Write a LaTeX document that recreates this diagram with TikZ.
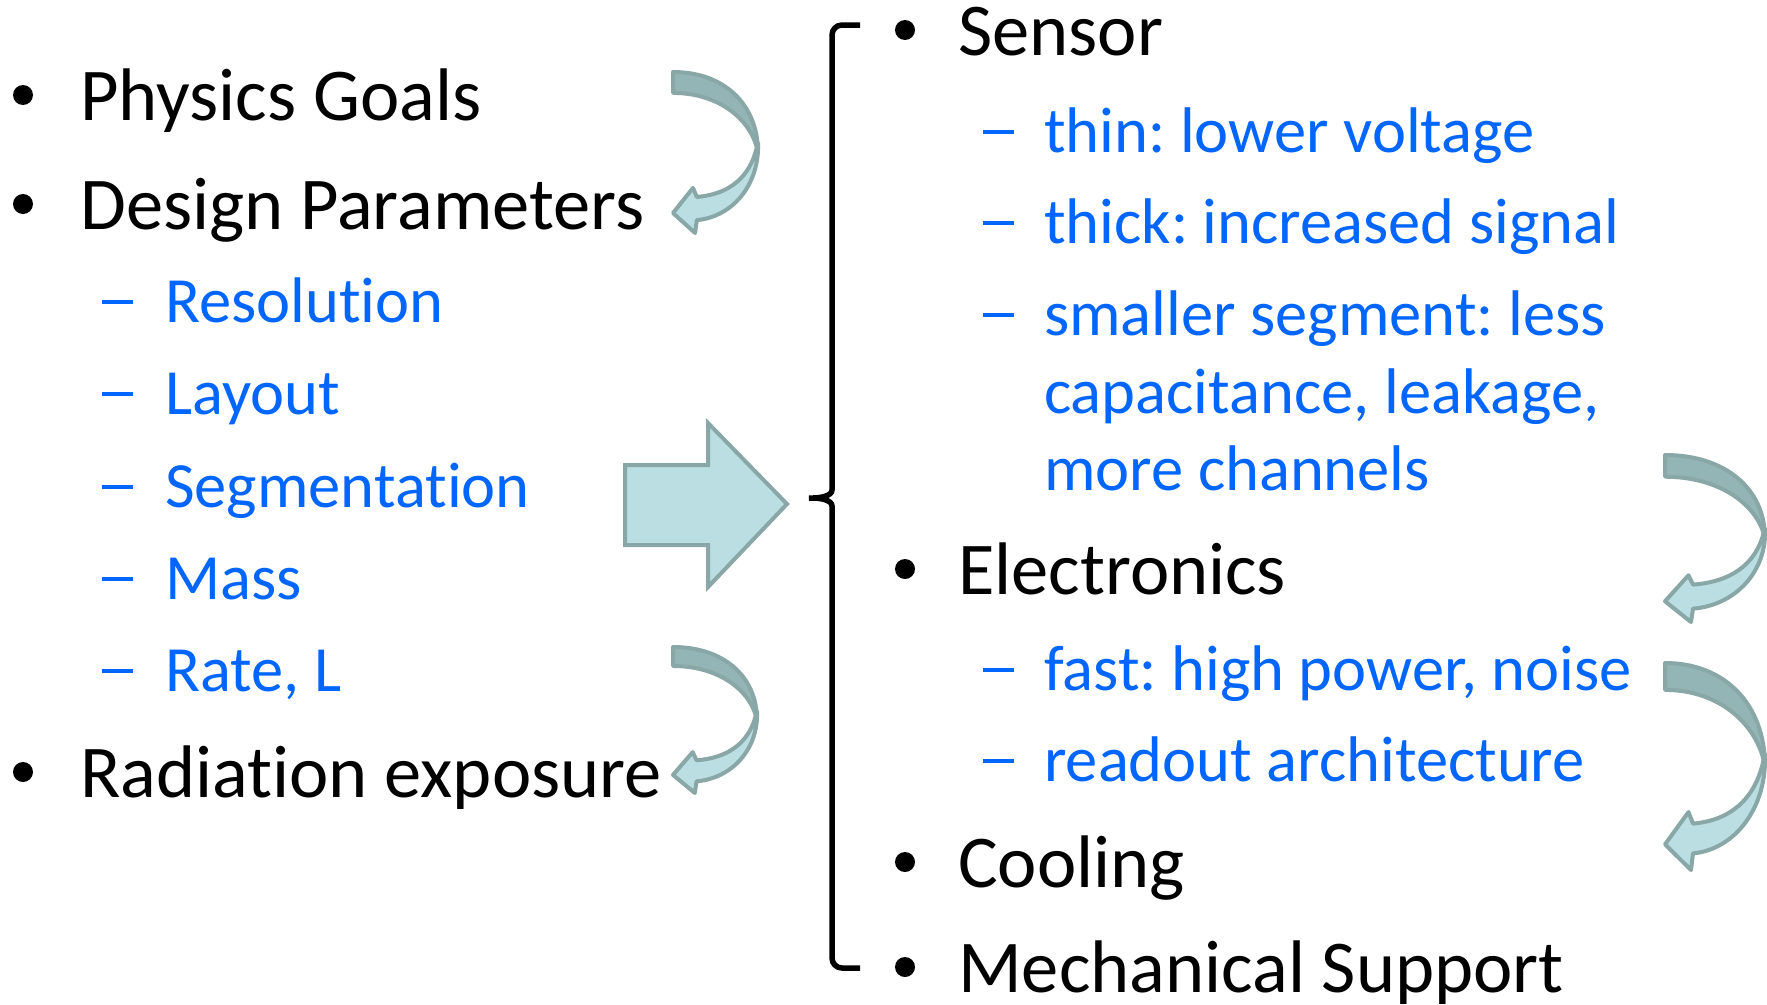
\documentclass[tikz,border=0pt]{standalone}
\usepackage{fontspec}
\setmainfont[RawFeature={-liga}]{Carlito}
\frenchspacing
\definecolor{itemblue}{RGB}{0,102,255}
\definecolor{arrowline}{RGB}{137,167,167}
\definecolor{arrowback}{RGB}{148,181,181}
\definecolor{arrowfront}{RGB}{186,222,225}
% blue dash in front of sub-items
\newcommand\subdash[1]{\makebox[#1][l]{\rule[18pt]{31pt}{4.5pt}}}
% curved turn arrow: left x, top y, width, height
\newcommand\turnarrow[4]{%
  \begin{scope}[shift={(#1,#2)},xscale=#3,yscale=#4]
    \filldraw[arrowstyle,fill=arrowback]
      (0,0) .. controls (0.6,0) and (1,0.2) .. (1,0.5)
      .. controls (0.93,0.3) and (0.55,0.13) .. (0,0.13) -- cycle;
    \filldraw[arrowstyle,fill=arrowfront]
      (1,0.44) .. controls (1.02,0.7) and (0.7,0.9) .. (0.28,0.92)
      -- (0.26,1) -- (0,0.876) -- (0.235,0.72) -- (0.28,0.776)
      .. controls (0.65,0.76) and (0.9,0.66) .. (0.985,0.47) -- cycle;
  \end{scope}}
\begin{document}
\begin{tikzpicture}[x=1pt,y=-1pt,
  main/.style={anchor=base west,inner sep=0pt,font=\fontsize{74.5}{89}\selectfont},
  sub/.style={anchor=base west,inner sep=0pt,text=itemblue,font=\fontsize{64.5}{77}\selectfont},
  arrowstyle/.style={draw=arrowline,line width=4,line join=round},
  ]
\useasboundingbox[fill=white] (0,0) rectangle (1767,1004);

% left column
\node[main] (pg) at (80,120) {Physics Goals};
\node[main] (dp) at (80,229) {Design Parameters};
\node[sub] (res) at (102,322) {\subdash{63pt}Resolution};
\node[sub] (lay) at (102,414) {\subdash{63pt}Layout};
\node[sub] (seg) at (102,507) {\subdash{63pt}Segmentation};
\node[sub] (mas) at (102,599) {\subdash{63pt}Mass};
\node[sub] (rat) at (102,691) {\subdash{63pt}Rate, L};
\node[main] (rad) at (80,797) {Radiation exposure};

% right column
\node[main] (sen) at (958,55) {Sensor};
\node[sub] (thn) at (983,152) {\subdash{61pt}thin: lower voltage};
\node[sub] (thk) at (983,243) {\subdash{61pt}thick: increased signal};
\node[sub] (sm1) at (983,335) {\subdash{61pt}smaller segment: less};
\node[sub] (sm2) at (1044,413) {capacitance, leakage,};
\node[sub] (sm3) at (1044,490) {more channels};
\node[main] (ele) at (958,594) {Electronics};
\node[sub] (fst) at (983,690) {\subdash{61pt}fast: high power, noise};
\node[sub] (rdo) at (983,781) {\subdash{61pt}readout architecture};
\node[main] (coo) at (958,887) {Cooling};
\node[main] (mec) at (958,992) {Mechanical Support};

% bullets
\foreach \n in {pg,dp,rad}
  \fill ([shift={(-57,-25)}]\n.base west) circle (10);
\foreach \n in {sen,ele,coo,mec}
  \fill ([shift={(-53,-25)}]\n.base west) circle (10);

% brace
\draw[line width=5.5,rounded corners=10]
  (860,25) -- (832,25) -- (832,480)
  .. controls (832,496) and (820,498) .. (803,498)
  .. controls (820,498) and (832,500) .. (832,516)
  -- (832,968) -- (860,968);

% block arrow
\filldraw[arrowstyle,fill=arrowfront,line join=miter]
  (625,465) -- (708,465) -- (708,423) -- (787,504) -- (708,587)
  -- (708,545) -- (625,545) -- cycle;

% curved arrows
\turnarrow{673}{72}{85}{161}
\turnarrow{673}{647}{84}{146}
\turnarrow{1665}{455}{100}{167}
\turnarrow{1665}{663}{100}{207}
\end{tikzpicture}
\end{document}
